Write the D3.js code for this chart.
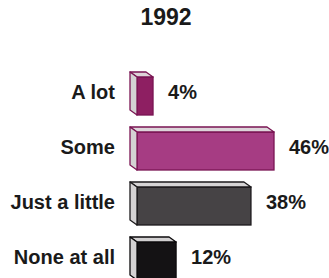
<!DOCTYPE html>
<html>
<head>
<meta charset="utf-8">
<script src="https://cdn.jsdelivr.net/npm/d3@7"></script>
<style>
  body { margin: 0; background: #fff; }
  text { font-family: "Liberation Sans", Arial, sans-serif; font-weight: bold; fill: #1a1a1a; }
</style>
</head>
<body>
<div id="chart"></div>
<script>
const title = '1992';
const categories = ['A lot', 'Some', 'Just a little', 'None at all'];
const values = [4, 46, 38, 12];
const fronts = ['#8e1f62', '#a63c83', '#464345', '#141214'];
const edges = ['#7a1553', '#7a1553', '#1c1a1c', '#0c0a0c'];
const tops = ['#ddd3d8', '#ddd5da', '#d6d4d5', '#d2d0d1'];

var width = 329, height = 278;
var depthX = 7, depthY = 5, frontH = 38;
var barLeft = 130;

var svg = d3.select('#chart').append('svg')
    .attr('width', width)
    .attr('height', height);

svg.append('text')
    .attr('x', 166)
    .attr('y', 25)
    .attr('text-anchor', 'middle')
    .style('font-size', '23px')
    .text(title);

var yscale = d3.scaleBand()
    .domain(categories)
    .range([72, 72 + 55 * categories.length]);

var xscale = d3.scaleLinear()
    .domain([0, 46])
    .range([4.5, 137]);

var rows = categories.map((c, i) => ({ cat: c, val: values[i], i: i }));

var g = svg.append('g').selectAll('g')
    .data(rows)
    .join('g');

// front face
g.append('rect')
    .attr('x', barLeft + depthX)
    .attr('y', d => yscale(d.cat) + depthY)
    .attr('width', d => xscale(d.val))
    .attr('height', frontH)
    .attr('fill', d => fronts[d.i])
    .attr('stroke', d => edges[d.i])
    .attr('stroke-width', 1.3);

// top face
g.append('path')
    .attr('d', d => {
        var y0 = yscale(d.cat), x1 = barLeft + depthX + xscale(d.val);
        return `M${barLeft},${y0} L${x1 - depthX},${y0} L${x1},${y0 + depthY} L${barLeft + depthX},${y0 + depthY} Z`;
    })
    .attr('fill', d => tops[d.i])
    .attr('stroke', d => edges[d.i])
    .attr('stroke-width', 1.3)
    .attr('stroke-linejoin', 'round');

// left face
g.append('path')
    .attr('d', d => {
        var y0 = yscale(d.cat);
        return `M${barLeft},${y0} L${barLeft + depthX},${y0 + depthY} L${barLeft + depthX},${y0 + depthY + frontH} L${barLeft},${y0 + frontH} Z`;
    })
    .attr('fill', '#d4d2d3')
    .attr('stroke', d => edges[d.i])
    .attr('stroke-width', 1.3)
    .attr('stroke-linejoin', 'round');

// category labels
g.append('text')
    .attr('x', 115)
    .attr('y', d => yscale(d.cat) + 27)
    .attr('text-anchor', 'end')
    .style('font-size', '20px')
    .text(d => d.cat);

// value labels
g.append('text')
    .attr('x', d => barLeft + depthX + xscale(d.val) + 15)
    .attr('y', d => yscale(d.cat) + 27)
    .style('font-size', '20px')
    .text(d => d.val + '%');
</script>
</body>
</html>
